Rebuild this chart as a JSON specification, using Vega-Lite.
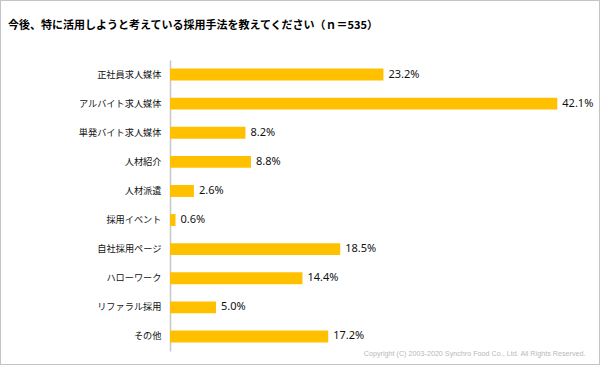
{
  "$schema": "https://vega.github.io/schema/vega-lite/v6.json",
  "width": 600,
  "height": 365,
  "autosize": {"type": "none"},
  "padding": 0,
  "background": "white",
  "config": {
    "view": {"stroke": "#c4c4c4", "strokeWidth": 2, "fill": "white"},
    "font": "Noto Sans CJK JP"
  },
  "title": {
    "text": "今後、特に活用しようと考えている採用手法を教えてください（ｎ＝535）",
    "anchor": "start",
    "frame": "group",
    "orient": "top",
    "offset": -31,
    "dx": 8,
    "font": "Noto Sans CJK JP",
    "fontSize": 11,
    "fontWeight": "bold",
    "color": "#000000"
  },
  "data": {
    "values": [
      {"category": "正社員求人媒体", "value": 23.2, "label": "23.2%"},
      {"category": "アルバイト求人媒体", "value": 42.1, "label": "42.1%"},
      {"category": "単発バイト求人媒体", "value": 8.2, "label": "8.2%"},
      {"category": "人材紹介", "value": 8.8, "label": "8.8%"},
      {"category": "人材派遣", "value": 2.6, "label": "2.6%"},
      {"category": "採用イベント", "value": 0.6, "label": "0.6%"},
      {"category": "自社採用ページ", "value": 18.5, "label": "18.5%"},
      {"category": "ハローワーク", "value": 14.4, "label": "14.4%"},
      {"category": "リファラル採用", "value": 5.0, "label": "5.0%"},
      {"category": "その他", "value": 17.2, "label": "17.2%"}
    ]
  },
  "encoding": {
    "y": {
      "field": "category",
      "type": "nominal",
      "sort": null,
      "scale": {"range": [60, 351], "paddingInner": 0.59, "paddingOuter": 0.295},
      "axis": {
        "title": null,
        "orient": "left",
        "offset": -170,
        "ticks": false,
        "grid": false,
        "domainColor": "#c8c8c8",
        "domainWidth": 1.5,
        "labelPadding": 9,
        "labelFont": "Noto Sans CJK JP",
        "labelFontSize": 9.2,
        "labelColor": "#111111"
      }
    },
    "x": {
      "field": "value",
      "type": "quantitative",
      "scale": {"domain": [0, 50], "range": [170, 630], "zero": true, "nice": false},
      "axis": {
        "orient": "bottom",
        "labels": false,
        "ticks": false,
        "domain": false,
        "grid": false,
        "title": "Copyright (C) 2003-2020  Synchro Food Co., Ltd. All Rights Reserved.",
        "titleX": 585,
        "titleY": -10,
        "titleAlign": "right",
        "titleBaseline": "alphabetic",
        "titleFont": "Liberation Sans",
        "titleFontSize": 7.2,
        "titleFontWeight": "normal",
        "titleColor": "#b8b8b8"
      }
    }
  },
  "layer": [
    {"mark": {"type": "bar", "color": "#FFC000"}},
    {
      "mark": {"type": "text", "align": "left", "baseline": "middle", "dx": 5, "font": "Noto Sans", "fontSize": 11, "color": "#111111"},
      "encoding": {"text": {"field": "label"}}
    }
  ]
}
